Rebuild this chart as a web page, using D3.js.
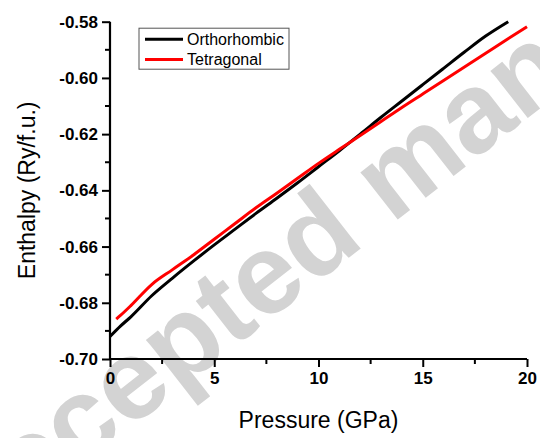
<!DOCTYPE html>
<html>
<head>
<meta charset="utf-8">
<script src="https://cdn.jsdelivr.net/npm/d3@7"></script>
<style>
  body { margin: 0; background: #fff; }
  svg { display: block; font-family: "Liberation Sans", Arial, sans-serif; }
</style>
</head>
<body>
<div id="graph"></div>
<script>
// pressure (GPa) and enthalpy (Ry/f.u.)
var orthoP = [0, 0.5, 1, 2, 3, 4, 5, 6, 7, 8, 9, 10, 11, 12, 13, 14, 15, 16, 17, 18, 19.1];
var orthoH = [-0.6920, -0.6883, -0.6850, -0.6775, -0.6712, -0.6652, -0.6594, -0.6538, -0.6482, -0.6428,
              -0.6373, -0.6316, -0.6259, -0.6200, -0.6140, -0.6082, -0.6024, -0.5966, -0.5908, -0.5852, -0.5800];

var tetraP = [0.3, 0.5, 1, 2, 3, 4, 5, 6, 7, 8, 9, 10, 11, 12, 13, 14, 15, 16, 17, 18, 19, 20];
var tetraH = [-0.6858, -0.6845, -0.6810, -0.6735, -0.6682, -0.6630, -0.6574, -0.6518, -0.6462, -0.6410, -0.6357,
              -0.6304, -0.6254, -0.6205, -0.6155, -0.6105, -0.6057, -0.6009, -0.5961, -0.5913, -0.5865, -0.5818];

var seriesNames = ["Orthorhombic", "Tetragonal"];
var seriesColors = ["#000000", "#ff0000"];

var xTicks = [0, 5, 10, 15, 20];
var xMinor = [2.5, 7.5, 12.5, 17.5];
var yTicks = [-0.70, -0.68, -0.66, -0.64, -0.62, -0.60, -0.58];
var yTickLabels = ["-0.70", "-0.68", "-0.66", "-0.64", "-0.62", "-0.60", "-0.58"];
var yMinor = [-0.69, -0.67, -0.65, -0.63, -0.61, -0.59];

var margin = {top: 21.7, right: 13, bottom: 79, left: 110},
    width = 540 - margin.left - margin.right,
    height = 438 - margin.top - margin.bottom;

var root = d3.select("#graph")
  .append("svg")
    .attr("width", 540)
    .attr("height", 438);

// watermark behind the plot
root.append("text")
    .attr("transform", "translate(419,203) rotate(-38)")
    .attr("text-anchor", "middle")
    .style("font-size", "114px")
    .style("font-weight", "bold")
    .style("fill", "#d3d3d3")
    .text("Accepted manuscript");

var svg = root.append("g")
    .attr("transform", "translate(" + margin.left + "," + margin.top + ")");

var x = d3.scaleLinear().domain([0, 20]).range([0, width]);
var y = d3.scaleLinear().domain([-0.70, -0.58]).range([height, 0]);

// lines
var series = [
  {name: seriesNames[0], color: seriesColors[0], p: orthoP, h: orthoH},
  {name: seriesNames[1], color: seriesColors[1], p: tetraP, h: tetraH}
];

var line = d3.line()
    .x(d => x(d[0]))
    .y(d => y(d[1]))
    .curve(d3.curveMonotoneX);

series.forEach(function(s) {
  svg.append("path")
      .datum(d3.zip(s.p, s.h))
      .attr("fill", "none")
      .attr("stroke", s.color)
      .attr("stroke-width", 3)
      .attr("d", line);
});

// axes
var xAxis = svg.append("g")
    .attr("transform", "translate(0," + height + ")")
    .call(d3.axisBottom(x).tickValues(xTicks).tickSize(8).tickPadding(5).tickFormat(d3.format("d")));
xAxis.append("g").selectAll("line")
    .data(xMinor).enter().append("line")
    .attr("x1", d => x(d)).attr("x2", d => x(d))
    .attr("y1", 0).attr("y2", 5)
    .attr("stroke", "#000").attr("stroke-width", 2);

var yAxis = svg.append("g")
    .call(d3.axisLeft(y).tickValues(yTicks).tickSize(8).tickPadding(4)
      .tickFormat((d, i) => yTickLabels[i]));
yAxis.append("g").selectAll("line")
    .data(yMinor).enter().append("line")
    .attr("y1", d => y(d)).attr("y2", d => y(d))
    .attr("x1", 0).attr("x2", -5)
    .attr("stroke", "#000").attr("stroke-width", 2);

[xAxis, yAxis].forEach(function(a) {
  a.select(".domain").attr("stroke-width", 2.2).attr("stroke", "#000");
  a.selectAll(".tick line").attr("stroke-width", 2).attr("stroke", "#000");
  a.selectAll(".tick text")
      .style("font-family", "'Liberation Sans', Arial, sans-serif")
      .style("font-size", "17px")
      .style("font-weight", "bold")
      .attr("fill", "#000");
});
xAxis.select(".domain").attr("d", "M0,0H" + width);
yAxis.select(".domain").attr("d", "M0," + height + "V0");

// axis titles
svg.append("text")
    .attr("x", width / 2)
    .attr("y", height + 69)
    .attr("text-anchor", "middle")
    .style("font-size", "23px")
    .text("Pressure (GPa)");

svg.append("text")
    .attr("transform", "translate(" + (-75) + "," + (height / 2) + ") rotate(-90)")
    .attr("text-anchor", "middle")
    .style("font-size", "23px")
    .text("Enthalpy (Ry/f.u.)");

// legend
var legend = svg.append("g").attr("transform", "translate(29,6.5)");
legend.append("rect")
    .attr("width", 150).attr("height", 41)
    .attr("fill", "#fff").attr("stroke", "#555").attr("stroke-width", 1);
series.forEach(function(s, i) {
  var ly = 11 + i * 20.2;
  legend.append("line")
      .attr("x1", 6).attr("x2", 44).attr("y1", ly).attr("y2", ly)
      .attr("stroke", s.color).attr("stroke-width", 3);
  legend.append("text")
      .attr("x", 48).attr("y", ly + 5.5)
      .style("font-size", "16px")
      .text(s.name);
});
</script>
</body>
</html>
